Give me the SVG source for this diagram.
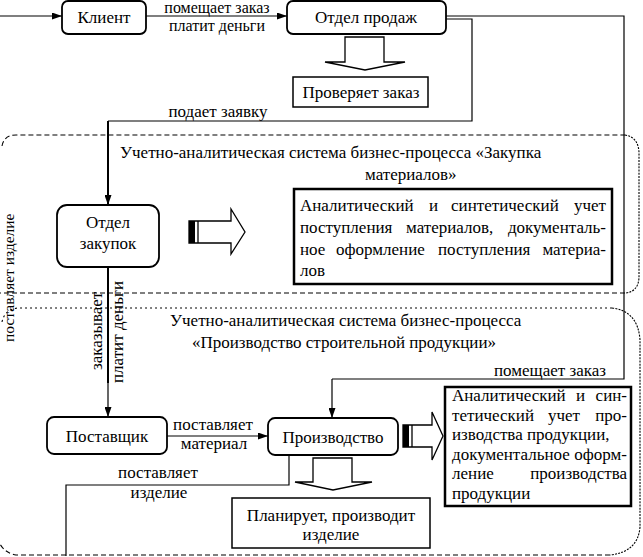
<svg xmlns="http://www.w3.org/2000/svg" width="643" height="557" viewBox="0 0 643 557">
<style>
text{font-family:"Liberation Serif","Times New Roman",Tinos,"DejaVu Serif","Noto Serif",serif;font-size:17px;fill:#000}
.c{text-anchor:middle}
.e{text-anchor:end}
.s{font-size:16px}
.node{fill:#fff;stroke:#000;stroke-width:1.8}
.box{fill:#fff;stroke:#000;stroke-width:1.5}
.tbox{fill:#fff;stroke:#000;stroke-width:2.5}
.ln{fill:none;stroke:#000;stroke-width:1.2}
.thk{fill:none;stroke:#000;stroke-width:2}
.wa{fill:#fff;stroke:#000;stroke-width:1.3}
.dash{fill:none;stroke:#000;stroke-width:1.1;stroke-dasharray:5 3}
.dot{fill:none;stroke:#000;stroke-width:1.1;stroke-dasharray:2 3}
.dens{fill:none;stroke:#000;stroke-width:1.1;stroke-dasharray:2 1.2}
</style>
<defs>
<marker id="ah" viewBox="0 0 10 7" refX="10" refY="3.5" markerWidth="10" markerHeight="7" orient="auto" markerUnits="userSpaceOnUse"><path d="M0,0 L10,3.5 L0,7 z" fill="#000"/></marker>
</defs>

<g id="regions">
<path class="dash" d="M2,146 Q4,135 16,135 L625,135"/>
<path class="dens" d="M625,135 Q638,137 639,152 L639,278 Q638,292 625,293"/>
<path class="dash" d="M625,293 L0,293"/>
<path class="dot" d="M2,322 Q5,308 20,308 L612,308"/>
<path class="dens" d="M612,308 Q638,311 640,340 L640,527 Q638,552 610,555"/>
<path class="dash" d="M610,555 L16,555 Q5,553 0,544"/>
<text x="120" y="158">Учетно-аналитическая система бизнес-процесса «Закупка</text>
<text x="365" y="180">материалов»</text>
<text x="170" y="326">Учетно-аналитическая система бизнес-процесса</text>
<text x="192" y="348">«Производство строительной продукции»</text>
</g>

<g id="connectors">
<line class="ln" x1="0" y1="16" x2="62" y2="16" marker-end="url(#ah)"/>
<line class="ln" x1="146" y1="16" x2="287" y2="16" marker-end="url(#ah)"/>
<text class="c s" x="217" y="13">помещает заказ</text>
<text class="c s" x="217" y="30.5">платит деньги</text>
<polyline class="ln" points="446,19 472,19 472,121 108,121"/>
<line class="thk" x1="108" y1="121" x2="108" y2="205" marker-end="url(#ah)"/>
<text class="c" x="218" y="117">подает заявку</text>
<polyline class="ln" points="446,16 624,16 624,379 332,379"/>
<line class="ln" x1="332" y1="379" x2="332" y2="418" marker-end="url(#ah)"/>
<text class="c" x="550" y="376">помещает заказ</text>
<line class="thk" x1="108" y1="267" x2="108" y2="383"/>
<line class="ln" x1="108" y1="383" x2="108" y2="417" marker-end="url(#ah)"/>
<text transform="translate(102,370) rotate(-90)">заказывает</text>
<text transform="translate(123,383) rotate(-90)">платит деньги</text>
<line class="ln" x1="167" y1="436" x2="268" y2="436" marker-end="url(#ah)"/>
<text class="c" x="213" y="430">поставляет</text>
<text class="c" x="214" y="449">материал</text>
<polyline class="ln" points="289,455 289,485 66,485 66,556"/>
<text class="c" x="158" y="478">поставляет</text>
<text class="c" x="159" y="498">изделие</text>
<text transform="translate(14,342) rotate(-90)" style="font-size:15.5px">поставляет изделие</text>
</g>

<g id="klient">
<rect class="node" x="62" y="1" width="84" height="33" rx="6"/>
<text class="c" x="104" y="23">Клиент</text>
</g>

<g id="otdel-prodazh">
<rect class="node" x="287" y="1" width="159" height="33" rx="6"/>
<text class="c" x="366" y="23">Отдел продаж</text>
<polygon class="wa" points="345,37 384,37 384,62 405,62 365,70 325,62 345,62"/>
</g>

<g id="proveryaet">
<rect class="box" x="293" y="77" width="135" height="30"/>
<text class="c" x="361" y="98">Проверяет заказ</text>
</g>

<g id="otdel-zakupok">
<rect class="node" x="57" y="205" width="102" height="62" rx="10"/>
<text class="c" x="108" y="228">Отдел</text>
<text class="c" x="108" y="249">закупок</text>
<polygon class="wa" points="189,221 231,221 231,209 245,232 231,254 231,243 189,243"/>
<rect x="189" y="221" width="6" height="22" fill="#000"/>
<line x1="198" y1="221" x2="198" y2="243" stroke="#000" stroke-width="1.3"/>
</g>

<g id="uchet-zakupki">
<rect class="tbox" x="294" y="189" width="318" height="95"/>
<text x="300" y="211">Аналитический</text>
<text x="429" y="211">и</text>
<text x="451" y="211">синтетический</text>
<text class="e" x="606" y="211">учет</text>
<text x="300" y="233">поступления</text>
<text x="406" y="233">материалов,</text>
<text class="e" x="606" y="233">документаль-</text>
<text x="300" y="255">ное</text>
<text x="336" y="255">оформление</text>
<text x="438" y="255">поступления</text>
<text class="e" x="606" y="255">материа-</text>
<text x="300" y="276">лов</text>
</g>

<g id="postavshik">
<rect class="node" x="47" y="417" width="120" height="37" rx="7"/>
<text class="c" x="107" y="442">Поставщик</text>
</g>

<g id="proizvodstvo">
<rect class="node" x="268" y="418" width="130" height="37" rx="7"/>
<text class="c" x="333" y="443">Производство</text>
<polygon class="wa" points="313,458 352,458 352,482 372,482 333,490 295,482 313,482"/>
<polygon class="wa" points="403,425 432,425 432,412 443,436 432,460 432,447 403,447"/>
<rect x="403" y="425" width="6" height="22" fill="#000"/>
<line x1="412" y1="425" x2="412" y2="447" stroke="#000" stroke-width="1.3"/>
</g>

<g id="planiruet">
<rect class="box" x="232" y="498" width="198" height="50"/>
<text class="c" x="331" y="521">Планирует, производит</text>
<text class="c" x="331" y="540">изделие</text>
</g>

<g id="uchet-proizvodstvo">
<rect class="tbox" x="445" y="387" width="186" height="119"/>
<text x="452" y="401">Аналитический</text>
<text x="576" y="401">и</text>
<text class="e" x="627" y="401">син-</text>
<text x="452" y="420.5">тетический</text>
<text x="548" y="420.5">учет</text>
<text class="e" x="627" y="420.5">про-</text>
<text x="452" y="440">изводства продукции,</text>
<text x="452" y="459.5">документальное</text>
<text class="e" x="627" y="459.5">оформ-</text>
<text x="452" y="479">ление</text>
<text class="e" x="627" y="479">производства</text>
<text x="452" y="498.5">продукции</text>
</g>
</svg>
